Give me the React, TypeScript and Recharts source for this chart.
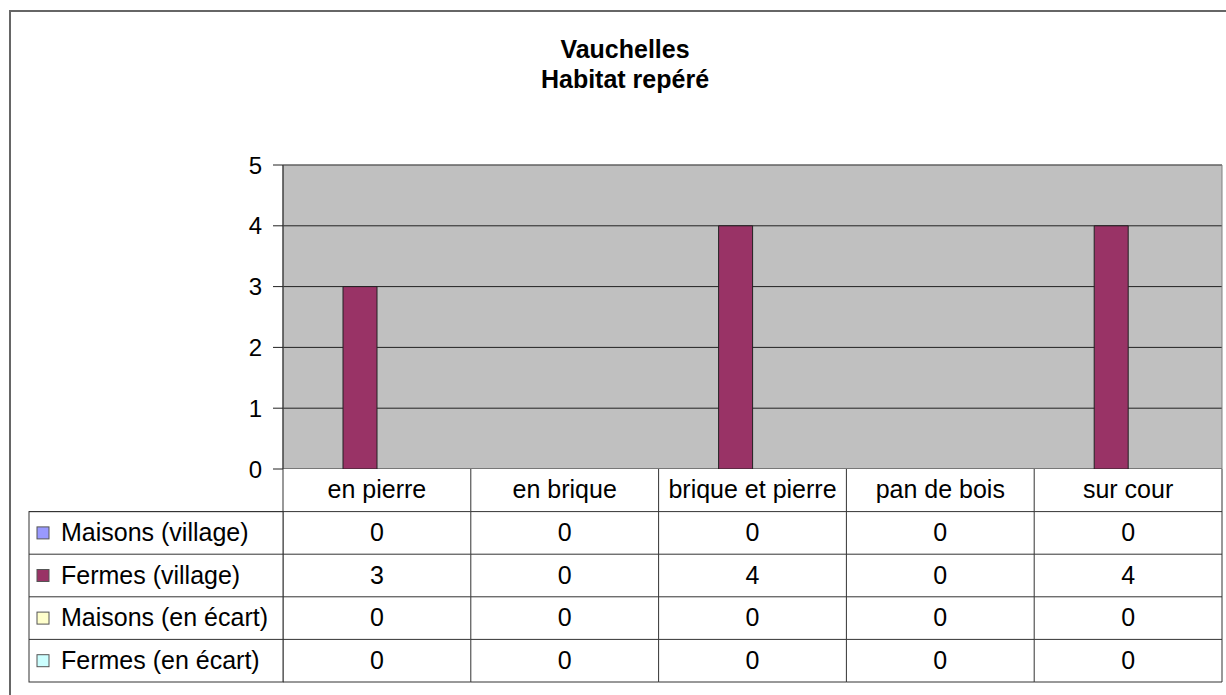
import React from 'react';
import { BarChart, Bar, XAxis, YAxis, CartesianGrid, ReferenceArea } from 'recharts';

const categories = ['en pierre', 'en brique', 'brique et pierre', 'pan de bois', 'sur cour'];
const maisonsVillage = [0, 0, 0, 0, 0];
const fermesVillage = [3, 0, 4, 0, 4];
const maisonsEcart = [0, 0, 0, 0, 0];
const fermesEcart = [0, 0, 0, 0, 0];
const yTicks = [0, 1, 2, 3, 4, 5];

const series = [
  { key: 'maisonsVillage', name: 'Maisons (village)', color: '#9999FF', values: maisonsVillage },
  { key: 'fermesVillage', name: 'Fermes (village)', color: '#993366', values: fermesVillage },
  { key: 'maisonsEcart', name: 'Maisons (en écart)', color: '#FFFFCC', values: maisonsEcart },
  { key: 'fermesEcart', name: 'Fermes (en écart)', color: '#CCFFFF', values: fermesEcart },
];

const data = categories.map((name, i) => {
  const row: Record<string, string | number> = { name };
  series.forEach(s => { row[s.key] = s.values[i]; });
  return row;
});

// layout
const W = 1226;
const H = 695;
const PLOT_LEFT = 283;
const PLOT_RIGHT = 1222;
const PLOT_TOP = 165;
const PLOT_BOTTOM = 469;
const COL_W = (PLOT_RIGHT - PLOT_LEFT) / categories.length;
const ROW_H = 42.6;
const TABLE_LEFT = 29;
const FONT = '"Liberation Sans", Arial, sans-serif';
const LINE = '#333';

const TableTick = (props: any) => {
  const { x, y, payload } = props;
  const i = categories.indexOf(payload.value);
  const left = x - COL_W / 2;
  const right = x + COL_W / 2;
  const bottom = y + ROW_H * (series.length + 1);
  const isLast = i === categories.length - 1;

  return (
    <g fontFamily={FONT} fontSize={25} fill="#000">
      <rect x={left} y={y} width={COL_W} height={bottom - y} fill="#fff" />
      <text x={x} y={y + ROW_H / 2 + 8} textAnchor="middle" fill="#000">{payload.value}</text>
      {series.map((s, r) => (
        <text key={s.key} x={x} y={y + ROW_H * (r + 1.5) + 8} textAnchor="middle" fill="#000">
          {s.values[i]}
        </text>
      ))}
      {series.map((s, r) => (
        <line key={'h' + s.key} x1={left} x2={right} y1={y + ROW_H * (r + 1)} y2={y + ROW_H * (r + 1)} stroke={LINE} />
      ))}
      <line x1={left} x2={right} y1={bottom} y2={bottom} stroke={LINE} />
      <line x1={left} x2={left} y1={y} y2={bottom} stroke={LINE} />
      {isLast && <line x1={right} x2={right} y1={y} y2={bottom} stroke={LINE} />}
      {i === 0 && (
        <g>
          <rect x={TABLE_LEFT} y={y + ROW_H} width={left - TABLE_LEFT} height={bottom - y - ROW_H} fill="#fff" stroke={LINE} />
          {series.map((s, r) => {
            const top = y + ROW_H * (r + 1);
            return (
              <g key={'l' + s.key}>
                <line x1={TABLE_LEFT} x2={left} y1={top} y2={top} stroke={LINE} />
                <rect x={37} y={top + ROW_H / 2 - 6} width={12} height={12} fill={s.color} stroke="#555" />
                <text x={61} y={top + ROW_H / 2 + 8} textAnchor="start" fill="#000">{s.name}</text>
              </g>
            );
          })}
        </g>
      )}
    </g>
  );
};

export default function App() {
  return (
    <div style={{ position: 'absolute', left: 0, top: 0, width: W, height: H, overflow: 'hidden', background: '#fff' }}>
      <div style={{ position: 'absolute', left: 9, top: 10, width: 1250, height: 720, border: '2px solid #666', boxSizing: 'border-box' }} />
      <div style={{ position: 'absolute', left: 0, top: 0 }}>
        <BarChart
          width={W}
          height={H}
          data={data}
          margin={{ top: PLOT_TOP, right: W - PLOT_RIGHT, left: 0, bottom: 0 }}
          barGap={0}
        >
          <CartesianGrid vertical={false} fill="#C0C0C0" fillOpacity={1} stroke="#222" />
          <ReferenceArea y1={0} y2={5} fill="none" stroke="#808080" ifOverflow="visible" />
          <XAxis
            dataKey="name"
            height={H - PLOT_BOTTOM}
            interval={0}
            tickLine={false}
            tickSize={0}
            tickMargin={0}
            axisLine={false}
            tick={<TableTick />}
          />
          <YAxis
            width={PLOT_LEFT}
            domain={[0, 5]}
            ticks={yTicks}
            interval={0}
            axisLine={{ stroke: '#222' }}
            tickLine={{ stroke: '#222' }}
            tickSize={10}
            tickMargin={11}
            tick={{ fill: '#000', fontSize: 24, fontFamily: FONT }}
          />
          {series.map(s => (
            <Bar
              key={s.key}
              dataKey={s.key}
              name={s.name}
              fill={s.color}
              stroke="#222"
              barSize={34}
              isAnimationActive={false}
            />
          ))}
        </BarChart>
      </div>
      <svg style={{ position: 'absolute', left: 0, top: 0 }} width={W} height={120}>
        <g fontFamily={FONT} fontSize={25} fontWeight="bold" fill="#000" textAnchor="middle">
          <text x={625} y={58}>Vauchelles</text>
          <text x={625} y={88}>Habitat repéré</text>
        </g>
      </svg>
    </div>
  );
}
